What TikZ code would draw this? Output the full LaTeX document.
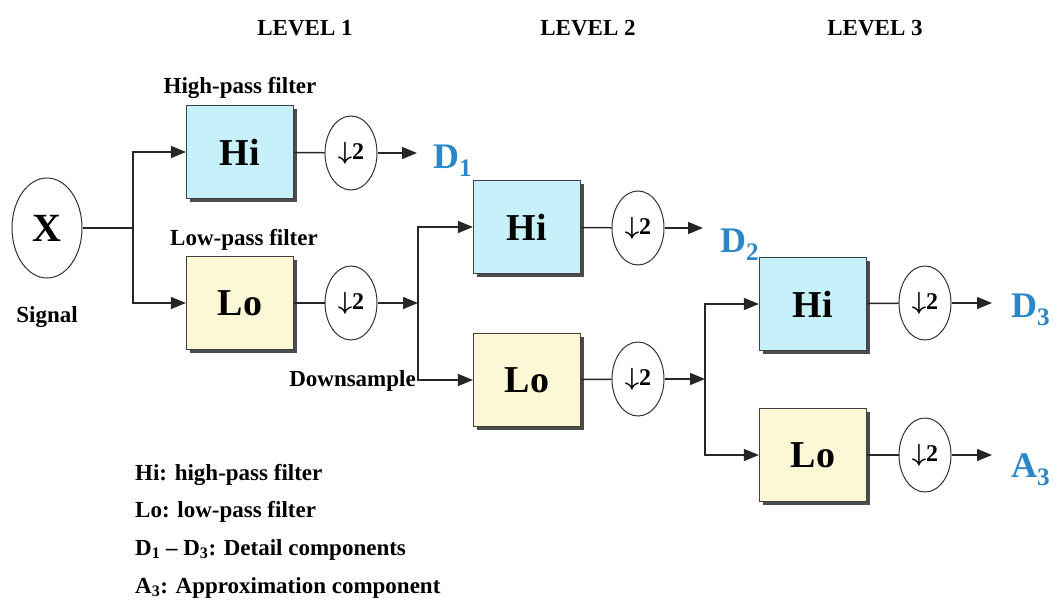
\documentclass[tikz,border=0pt]{standalone}
\usepackage{fontspec}
\setmainfont{Liberation Serif}
\usetikzlibrary{arrows.meta,shapes.geometric,shadows}
\definecolor{hicol}{RGB}{198,240,250}
\definecolor{locol}{RGB}{252,248,214}
\definecolor{coefblue}{RGB}{42,135,200}

\begin{document}
\begin{tikzpicture}[x=1pt,y=-1pt,>={Triangle[length=15pt,width=12pt]}]
    \tikzset{filter/.style = {shape=rectangle, draw=black!75, line width=1.2pt, minimum width=107pt, minimum height=93pt, font=\fontsize{38}{38}\selectfont\bfseries, drop shadow={shadow xshift=3pt, shadow yshift=-3pt, fill=black!70, opacity=1}}}
    \tikzset{hifilter/.style = {filter, fill=hicol}}
    \tikzset{lofilter/.style = {filter, fill=locol}}
    \tikzset{dsample/.style = {shape=ellipse, draw=black!80, line width=1pt, fill=white, minimum width=52pt, minimum height=74pt, inner sep=0pt, font=\fontsize{24}{24}\selectfont\bfseries}}
    \tikzset{coef/.style = {text=coefblue, font=\fontsize{36}{36}\selectfont\bfseries, anchor=base west, inner sep=0pt}}
    \tikzset{caption/.style = {font=\fontsize{23}{23}\selectfont\bfseries, inner sep=0pt}}
    \tikzset{edge/.style = {draw=black!85, line width=1.5pt}}

    \useasboundingbox (0,0) rectangle (1057,605);

    % signal
    \node[shape=ellipse, draw=black!80, line width=1pt, minimum width=70pt, minimum height=100pt, inner sep=0pt, font=\fontsize{40}{40}\selectfont\bfseries] (x) at (47,228) {X};
    \node[caption, anchor=base] (signal) at (47,322) {Signal};

    % level titles
    \node[caption, anchor=base] (lvl1) at (305,35) {LEVEL 1};
    \node[caption, anchor=base] (lvl2) at (588,35) {LEVEL 2};
    \node[caption, anchor=base] (lvl3) at (875,35) {LEVEL 3};

    % filters
    \node[hifilter] (hi1) at (240,152) {Hi};
    \node[lofilter] (lo1) at (240,303) {Lo};
    \node[hifilter] (hi2) at (527,227) {Hi};
    \node[lofilter] (lo2) at (527,380) {Lo};
    \node[hifilter] (hi3) at (813,304) {Hi};
    \node[lofilter] (lo3) at (813,455) {Lo};
    \node[caption, anchor=base] (hilabel) at (240,93) {High-pass filter};
    \node[caption, anchor=base] (lolabel) at (244,245) {Low-pass filter};

    % downsamplers
    \node[dsample] (ds1) at (351,153) {{\boldmath$\downarrow$}2};
    \node[dsample] (ds2) at (351,303) {{\boldmath$\downarrow$}2};
    \node[dsample] (ds3) at (638,228) {{\boldmath$\downarrow$}2};
    \node[dsample] (ds4) at (638,379) {{\boldmath$\downarrow$}2};
    \node[dsample] (ds5) at (925,303) {{\boldmath$\downarrow$}2};
    \node[dsample] (ds6) at (925,455) {{\boldmath$\downarrow$}2};
    \node[caption, anchor=base east] (dsamp) at (416,386) {Downsample};

    % outputs
    \node[coef] (d1) at (433,168) {D\textsubscript{1}};
    \node[coef] (d2) at (720,252) {D\textsubscript{2}};
    \node[coef] (d3) at (1011,317) {D\textsubscript{3}};
    \node[coef] (a3) at (1011,477) {A\textsubscript{3}};

    % junctions
    \coordinate (j1) at (133,228);
    \coordinate (j2) at (418,303);
    \coordinate (j3) at (705,379);

    % edges
    \draw[edge] (x) -- (j1);
    \draw[edge,->] (j1) |- (hi1);
    \draw[edge,->] (j1) |- (lo1);
    \draw[edge] (hi1) -- (ds1);
    \draw[edge] (lo1) -- (ds2);
    \draw[edge,->,shorten >=16pt] (ds1) -- (ds1 -| d1.west);
    \draw[edge,->] (ds2) -- (j2);
    \draw[edge,->] (j2) |- (hi2);
    \draw[edge,->] (j2) |- (lo2);
    \draw[edge] (hi2) -- (ds3);
    \draw[edge] (lo2) -- (ds4);
    \draw[edge,->,shorten >=17pt] (ds3) -- (ds3 -| d2.west);
    \draw[edge,->] (ds4) -- (j3);
    \draw[edge,->] (j3) |- (hi3);
    \draw[edge,->] (j3) |- (lo3);
    \draw[edge] (hi3) -- (ds5);
    \draw[edge] (lo3) -- (ds6);
    \draw[edge,->,shorten >=19pt] (ds5) -- (ds5 -| d3.west);
    \draw[edge,->,shorten >=19pt] (ds6) -- (ds6 -| a3.west);

    % legend
    \node[caption, anchor=base west] (leg1) at (135,480) {Hi: high-pass filter};
    \node[caption, anchor=base west] (leg2) at (135,517) {Lo: low-pass filter};
    \node[caption, anchor=base west] (leg3) at (135,555) {D\textsubscript{1} -- D\textsubscript{3}: Detail components};
    \node[caption, anchor=base west] (leg4) at (135,593) {A\textsubscript{3}: Approximation component};
\end{tikzpicture}
\end{document}
